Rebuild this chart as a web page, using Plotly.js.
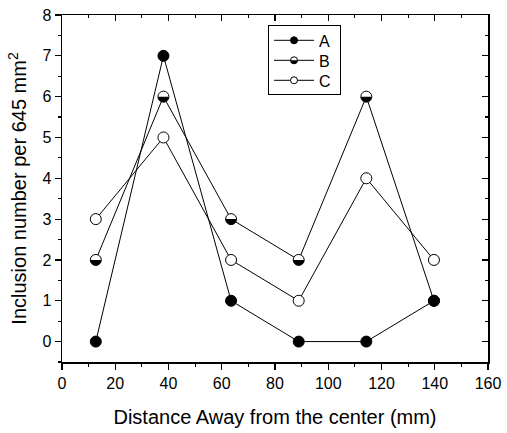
<!DOCTYPE html>
<html>
<head>
<meta charset="utf-8">
<script src="https://cdn.plot.ly/plotly-3.0.1.min.js"></script>
<style>html,body{margin:0;padding:0;background:#fff;}#chart{width:507px;height:433px;}</style>
</head>
<body>
<div id="chart"></div>
<script>
// Data
const distance = [12.7, 38.1, 63.5, 88.9, 114.3, 139.7];
const seriesA = [0, 7, 1, 0, 0, 1];
const seriesB = [2, 6, 3, 2, 6, 1];
const seriesC = [3, 5, 2, 1, 4, 2];
const seriesNames = ['A', 'B', 'C'];
const xTitle = 'Distance Away from the center (mm)';
const yTitle = 'Inclusion number per 645 mm<sup>2</sup>';

const FONT = 'Arial, "Liberation Sans", Helvetica, sans-serif';
const lineStyle = {color: '#000', width: 1};
const MS = 11, LMS = 7;

const traces = [
  {x: distance, y: seriesC, mode: 'lines+markers', line: lineStyle,
   marker: {symbol: 'circle', size: MS, color: '#fff', line: {color: '#000', width: 1}}, showlegend: false, hoverinfo: 'none'},
  {x: distance, y: seriesB, mode: 'lines+markers', line: lineStyle,
   marker: {symbol: 'circle', size: MS, color: '#fff', line: {color: '#000', width: 1}}, showlegend: false, hoverinfo: 'none'},
  // overlay for half-filled B markers (paths trimmed to lower half after render)
  {x: distance, y: seriesB, mode: 'markers',
   marker: {symbol: 'circle', size: MS, color: '#000', line: {width: 0}}, showlegend: false, hoverinfo: 'none'},
  {x: distance, y: seriesA, mode: 'lines+markers', line: lineStyle,
   marker: {symbol: 'circle', size: MS, color: '#000', line: {color: '#000', width: 1}}, showlegend: false, hoverinfo: 'none'},
  // legend entries
  {x: [null], y: [null], name: seriesNames[0], mode: 'lines+markers', line: lineStyle,
   marker: {symbol: 'circle', size: LMS, color: '#000', line: {color: '#000', width: 1}}},
  {x: [null], y: [null], name: seriesNames[1], mode: 'lines+markers', line: lineStyle,
   marker: {symbol: 'circle', size: LMS, color: '#fff', line: {color: '#000', width: 1}}},
  {x: [null], y: [null], name: seriesNames[2], mode: 'lines+markers', line: lineStyle,
   marker: {symbol: 'circle', size: LMS, color: '#fff', line: {color: '#000', width: 1}}},
  // dummy traces to show top/right axes
  {x: [null], y: [null], xaxis: 'x2', yaxis: 'y', showlegend: false, hoverinfo: 'none'},
  {x: [null], y: [null], xaxis: 'x', yaxis: 'y2', showlegend: false, hoverinfo: 'none'}
];

const axisCommon = {
  showgrid: false, zeroline: false, showline: true, linecolor: '#000', linewidth: 1.5,
  tickcolor: '#000', tickwidth: 1.2, ticklen: 6,
  tickfont: {family: FONT, size: 16, color: '#000'}
};

const layout = {
  width: 507, height: 433,
  margin: {l: 62, r: 19, t: 15, b: 71},
  paper_bgcolor: '#fff', plot_bgcolor: '#fff',
  font: {family: FONT, color: '#000'},
  showlegend: true,
  legend: {x: 0.4836, y: 0.97, xanchor: 'left', yanchor: 'top',
    bgcolor: '#fff', bordercolor: '#000', borderwidth: 1, itemwidth: 40,
    font: {family: FONT, size: 16, color: '#000'}, tracegroupgap: 0},
  xaxis: Object.assign({}, axisCommon, {
    range: [0, 160], tick0: 0, dtick: 20, ticks: 'outside',
    minor: {dtick: 10, ticks: 'outside', ticklen: 3, tickcolor: '#000', tickwidth: 1.2},
    title: {text: xTitle, font: {family: FONT, size: 20, color: '#000'}, standoff: 19}
  }),
  yaxis: Object.assign({}, axisCommon, {
    range: [-0.5, 8], tick0: 0, dtick: 1, ticks: 'outside',
    minor: {dtick: 0.5, tick0: 0, ticks: 'outside', ticklen: 3, tickcolor: '#000', tickwidth: 1.2},
    title: {text: yTitle, font: {family: FONT, size: 20, color: '#000'}, standoff: 10}
  }),
  xaxis2: Object.assign({}, axisCommon, {
    overlaying: 'x', side: 'top', matches: 'x', range: [0, 160], tick0: 0, dtick: 20,
    ticks: 'inside', showticklabels: false,
    minor: {dtick: 10, ticks: 'inside', ticklen: 3, tickcolor: '#000', tickwidth: 1.2}
  }),
  yaxis2: Object.assign({}, axisCommon, {
    overlaying: 'y', side: 'right', matches: 'y', range: [-0.5, 8], tick0: 0, dtick: 1,
    ticks: 'inside', showticklabels: false,
    minor: {dtick: 0.5, tick0: 0, ticks: 'inside', ticklen: 3, tickcolor: '#000', tickwidth: 1.2}
  })
};

function halfPath(d) {
  const m = /^M([\d.]+),0/.exec(d);
  if (!m) return d;
  const r = m[1];
  return 'M' + r + ',0A' + r + ',' + r + ' 0 0,1 -' + r + ',0Z';
}

function parseT(s) {
  const m = /translate\(\s*([-\d.]+)[ ,]+([-\d.]+)\s*\)/.exec(s || '');
  return m ? [parseFloat(m[1]), parseFloat(m[2])] : null;
}

Plotly.newPlot('chart', traces, layout, {staticPlot: true, displayModeBar: false}).then(function (gd) {
  // lower-half fill for series B markers
  const tr = gd.querySelectorAll('.scatterlayer .trace');
  if (tr[2]) tr[2].querySelectorAll('.points path').forEach(function (p) {
    p.setAttribute('d', halfPath(p.getAttribute('d')));
  });
  // legend half-filled marker for B
  const lt = Array.prototype.slice.call(gd.querySelectorAll('.legend .traces'));
  lt.forEach(function (g) {
    const t = g.querySelector('.legendtext');
    if (t && t.textContent === seriesNames[1]) {
      const p = g.querySelector('.legendpoints path.scatterpts');
      if (p) {
        const c = p.cloneNode(true);
        c.setAttribute('d', halfPath(p.getAttribute('d')));
        c.style.fill = '#000';
        c.style.stroke = 'none';
        p.parentNode.appendChild(c);
      }
    }
  });
  // tighten legend row spacing to match the reference
  const SP = 20, SHIFT = 3, EXTRA = 7;
  if (lt.length > 1) {
    const t0 = parseT(lt[0].getAttribute('transform'));
    const t1 = parseT(lt[1].getAttribute('transform'));
    if (t0 && t1) {
      const old = t1[1] - t0[1];
      lt.forEach(function (g, i) {
        const t = parseT(g.getAttribute('transform'));
        if (t) g.setAttribute('transform', 'translate(' + t[0] + ',' + (t0[1] - SHIFT + i * SP) + ')');
      });
      const bg = gd.querySelector('.legend rect.bg');
      if (bg) {
        const h = parseFloat(bg.getAttribute('height'));
        const w = parseFloat(bg.getAttribute('width'));
        bg.setAttribute('height', h - (lt.length - 1) * (old - SP) - EXTRA);
        bg.setAttribute('width', w + 4);
      }
    }
  }
});
</script>
</body>
</html>
